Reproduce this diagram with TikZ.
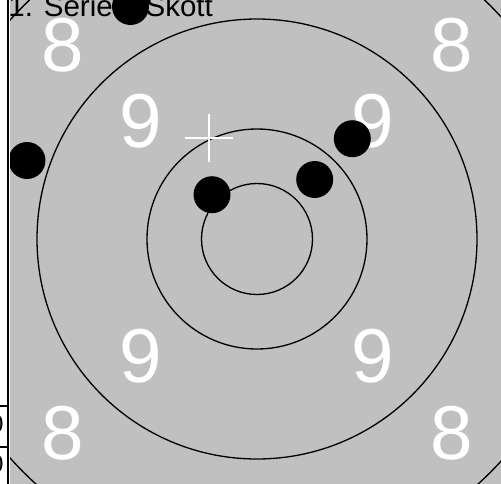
\documentclass[tikz,border=0pt]{standalone}
\usepackage{fontspec}
\setmainfont{Liberation Sans}
\usetikzlibrary{positioning}
\definecolor{targetgray}{RGB}{192,192,192}

\begin{document}
\begin{tikzpicture}[
        x=0.02cm, y=-0.02cm,
        % Stile der Scheibe
        ringline/.style={draw=black, line width=0.75pt},
        shotdot/.style={circle, fill=black, inner sep=0pt, minimum size=0.74cm},
        ringlabel/.style={text=white, inner sep=0pt, font=\fontsize{43.5}{44}\selectfont},
        crossline/.style={draw=white, line width=1.1pt},
        tablecell/.style={inner sep=0pt, font=\fontsize{14}{15}\selectfont}
    ]
    \useasboundingbox (0,0) rectangle (501,484);

    % Tabelle links (abgeschnitten)
    \node[tablecell, anchor=east] (cellA) at (4,424) {0};
    \node[tablecell, anchor=east] (cellB) at (4,464) {0};
    \draw[line width=0.6pt] (0,406) -- (8,406);
    \draw[line width=0.6pt] (0,447) -- (8,447);
    \draw[line width=1pt] (8,0) -- (8,484);

    % Scheibe
    \fill[targetgray] (10,0) rectangle (501,484);
    \coordinate (centre) at (257,239);

    \begin{scope}
        \clip (10,0) rectangle (501,484);
        \draw[ringline] (centre) circle (330);
        \draw[ringline] (centre) circle (220);
        \draw[ringline] (centre) circle (110);
        \draw[ringline] (centre) circle (55.5);

        % Ringzahlen
        \node[ringlabel] (eightNW) at (63,45) {8};
        \node[ringlabel] (eightNE) at (452,45) {8};
        \node[ringlabel] (eightSW) at (63,433) {8};
        \node[ringlabel] (eightSE) at (452,433) {8};
        \node[ringlabel] (nineNW) at (141,121) {9};
        \node[ringlabel] (nineNE) at (373,121) {9};
        \node[ringlabel] (nineSW) at (141,356) {9};
        \node[ringlabel] (nineSE) at (373,356) {9};

        % Titel
        \node[anchor=base west, inner sep=0pt, font=\fontsize{16.8}{18}\selectfont] (title) at (8,16.3) {1. Serie \phantom{5} Skott};

        % Mittelpunkt-Kreuz
        \coordinate (mark) at (209,138);
        \draw[crossline] (mark) ++(-24,0) -- ++(48,0);
        \draw[crossline] (mark) ++(0,-24) -- ++(0,48);

        % Treffer
        \node[shotdot] (shot1) at (130.5,6.5) {};
        \node[shotdot] (shot2) at (27,160.5) {};
        \node[shotdot] (shot3) at (352.3,138.7) {};
        \node[shotdot] (shot4) at (314.7,179.5) {};
        \node[shotdot] (shot5) at (212,194.7) {};
    \end{scope}
\end{tikzpicture}
\end{document}
